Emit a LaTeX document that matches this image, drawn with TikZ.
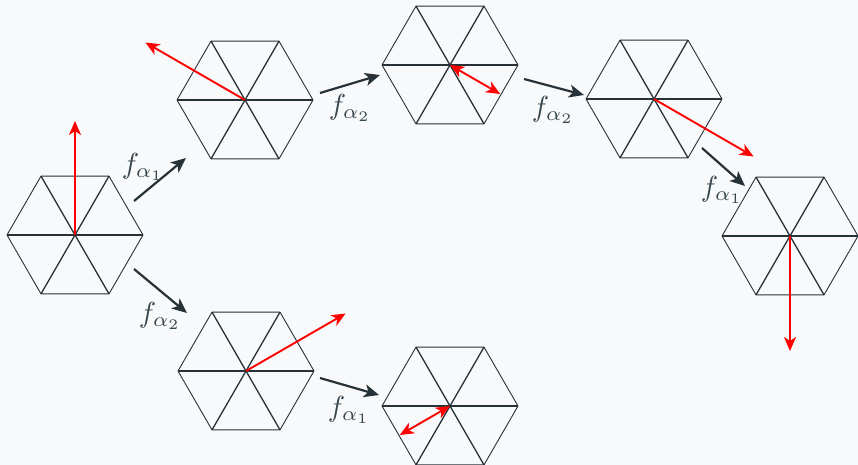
\documentclass[tikz,border=0pt]{standalone}
\usepackage{graphicx}
\usetikzlibrary{arrows.meta,calc}
\definecolor{bgc}{HTML}{F8F9FA}
\definecolor{ink}{HTML}{263238}
\definecolor{lab}{HTML}{37474F}
\tikzset{
  hexedge/.style={draw=ink, line width=0.9pt, line join=round},
  hexdiag/.style={draw=ink, line width=1.3pt},
  vec/.style={draw=red, line width=1.9pt, -{Stealth[length=14pt,width=12pt,inset=4pt]}},
  dvec/.style={draw=red, line width=1.9pt, {Stealth[length=14pt,width=12pt,inset=4pt]}-{Stealth[length=14pt,width=12pt,inset=4pt]}},
  conn/.style={draw=ink, line width=2.2pt, -{Stealth[length=15pt,width=13pt,inset=4pt]}},
  flab/.style={text=lab, inner sep=0pt}
}
\newcommand{\flabtxt}[1]{\scalebox{2.9}{$f_{\alpha_{#1}}$}}
\newcommand{\hexa}[1]{%
  \draw[hexedge] ($(#1)+(0:68pt)$) -- ($(#1)+(60:68pt)$) -- ($(#1)+(120:68pt)$) -- ($(#1)+(180:68pt)$) -- ($(#1)+(240:68pt)$) -- ($(#1)+(300:68pt)$) -- cycle;
  \draw[hexdiag] ($(#1)+(0:68pt)$) -- ($(#1)+(180:68pt)$);
  \draw[hexdiag] ($(#1)+(60:68pt)$) -- ($(#1)+(240:68pt)$);
  \draw[hexdiag] ($(#1)+(120:68pt)$) -- ($(#1)+(300:68pt)$);
}
\begin{document}
\begin{tikzpicture}[x=1pt,y=-1pt]
\fill[bgc] (0,0) rectangle (858,465);
\useasboundingbox (0,0) rectangle (858,465);
% hexagon centres
\coordinate (h1) at (75,235);
\coordinate (h2) at (245,100);
\coordinate (h3) at (450,65);
\coordinate (h4) at (654,99);
\coordinate (h5) at (790,236);
\coordinate (h6) at (246,371);
\coordinate (h7) at (450,406);
\foreach \h in {h1,h2,h3,h4,h5,h6,h7}{\hexa{\h}}
% red vectors
\coordinate (v1) at ($(h1)+(90:114pt)$);
\coordinate (v2) at ($(h2)+(150:115pt)$);
\coordinate (v3) at ($(h3)+(-30:58pt)$);
\coordinate (v4) at ($(h4)+(-30:115pt)$);
\coordinate (v5) at ($(h5)+(-90:115pt)$);
\coordinate (v6) at ($(h6)+(30:115pt)$);
\coordinate (v7) at ($(h7)+(210:58pt)$);
\draw[vec] (h1) -- (v1);
\draw[vec] (h2) -- (v2);
\draw[dvec] (h3) -- (v3);
\draw[vec] (h4) -- (v4);
\draw[vec] (h5) -- (v5);
\draw[vec] (h6) -- (v6);
\draw[dvec] (h7) -- (v7);
% connectors
\coordinate (a1s) at (134,201); \coordinate (a1e) at (186,158);
\coordinate (a2s) at (134,269); \coordinate (a2e) at (187,313);
\coordinate (a3s) at (320,93);  \coordinate (a3e) at (380,75);
\coordinate (a4s) at (524,79);  \coordinate (a4e) at (584,95);
\coordinate (a5s) at (702,148); \coordinate (a5e) at (745,186);
\coordinate (a6s) at (320,378); \coordinate (a6e) at (379,395);
\draw[conn] (a1s) -- (a1e);
\draw[conn] (a2s) -- (a2e);
\draw[conn] (a3s) -- (a3e);
\draw[conn] (a4s) -- (a4e);
\draw[conn] (a5s) -- (a5e);
\draw[conn] (a6s) -- (a6e);
% labels
\node[flab] (l1) at (143,167) {\flabtxt{1}};
\node[flab] (l2) at (160,316) {\flabtxt{2}};
\node[flab] (l3) at (350,108) {\flabtxt{2}};
\node[flab] (l4) at (553,110) {\flabtxt{2}};
\node[flab] (l5) at (722,190) {\flabtxt{1}};
\node[flab] (l6) at (349,410) {\flabtxt{1}};
\end{tikzpicture}
\end{document}
